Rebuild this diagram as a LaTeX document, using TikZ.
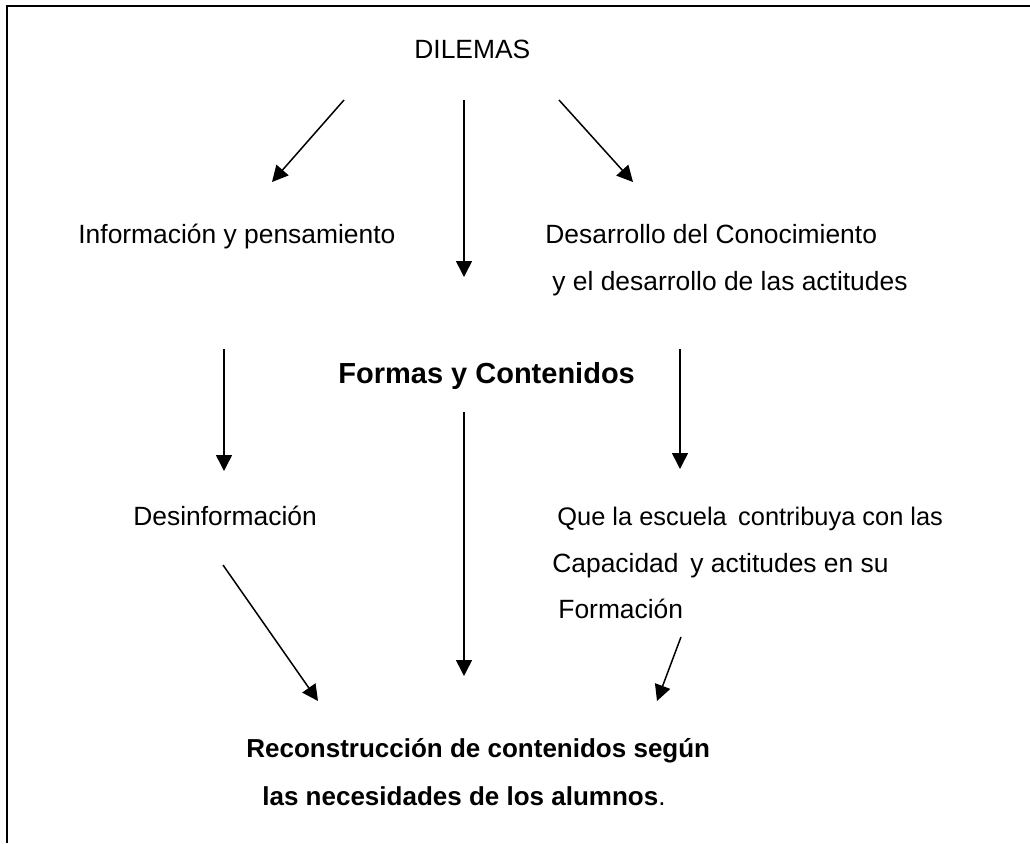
\documentclass[tikz,border=0pt]{standalone}
\usepackage{fontspec}
\setmainfont{Liberation Sans}
\usetikzlibrary{arrows.meta}
\begin{document}
\begin{tikzpicture}[x=0.5pt,y=-0.5pt,
  lbl/.style={anchor=base west,inner sep=0pt,font=\fontsize{13.2}{15}\selectfont},
  blbl/.style={lbl,font=\fontsize{13}{15}\selectfont\bfseries},
  arr/.style={line width=0.75pt,-{Triangle[length=8pt,width=8pt]}}]
\useasboundingbox (0,0) rectangle (1030,843);
\draw[line width=1.2pt] (7,843) -- (7,6) -- (1030,6);
% texts
\node[lbl] (dil) at (414,58) {DILEMAS};
\node[lbl] (inf) at (78,243) {Información y pensamiento};
\node[lbl] (des1) at (545,243) {Desarrollo del Conocimiento};
\node[lbl] (des2) at (552,290) {y el desarrollo de las actitudes};
\node[blbl,font=\fontsize{14.5}{17}\selectfont\bfseries] (for) at (338,383) {Formas y Contenidos};
\node[lbl] (desi) at (133,525) {Desinformación};
\node[lbl,font=\fontsize{12.7}{15}\selectfont] (que1) at (557,525) {Que la escuela\hspace{0.45em}contribuya con las};
\node[lbl] (que2) at (552,572) {Capacidad\hspace{0.45em}y actitudes en su};
\node[lbl] (que3) at (558,618) {Formación};
\node[blbl] (rec1) at (246,757) {Reconstrucción de contenidos según};
\node[lbl,font=\fontsize{13}{15}\selectfont] (rec2) at (262,805) {\textbf{las necesidades de los alumnos}.};
% arrow end points
\coordinate (a1s) at (344,100); \coordinate (a1e) at (272,182);
\coordinate (a2s) at (464,100); \coordinate (a2e) at (464,277);
\coordinate (a3s) at (559,100); \coordinate (a3e) at (633,182);
\coordinate (b1s) at (224,349); \coordinate (b1e) at (224,471);
\coordinate (b2s) at (464,412); \coordinate (b2e) at (464,676);
\coordinate (b3s) at (680,349); \coordinate (b3e) at (680,469);
\coordinate (c1s) at (223,565); \coordinate (c1e) at (318,701);
\coordinate (c3s) at (681,637); \coordinate (c3e) at (657,701);
\draw[arr] (a1s) -- (a1e);
\draw[arr] (a2s) -- (a2e);
\draw[arr] (a3s) -- (a3e);
\draw[arr] (b1s) -- (b1e);
\draw[arr] (b2s) -- (b2e);
\draw[arr] (b3s) -- (b3e);
\draw[arr] (c1s) -- (c1e);
\draw[arr] (c3s) -- (c3e);
\end{tikzpicture}
\end{document}
